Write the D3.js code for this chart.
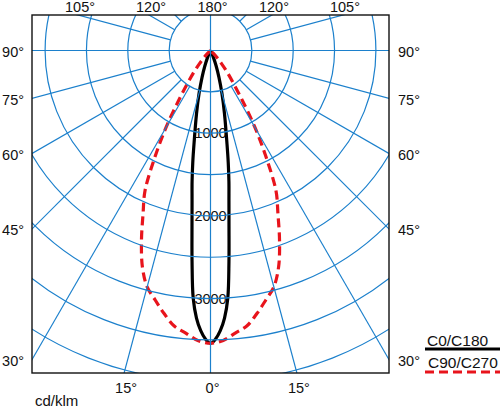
<!DOCTYPE html>
<html>
<head>
<meta charset="utf-8">
<script src="https://cdn.jsdelivr.net/npm/d3@7/dist/d3.min.js"></script>
<style>
  html, body { margin: 0; padding: 0; background: #fff; }
  svg { display: block; font-family: "Liberation Sans", Arial, sans-serif; }
</style>
</head>
<body>
<svg id="chart" width="500" height="409"></svg>
<script>
// ---- data (cd/klm) ----
const gammaC0 = [0, 1, 2, 3, 4, 5, 6, 7, 8, 9, 10, 12.5, 15, 17.5, 20, 22.5, 25, 27.5];
const valuesC0 = [3540, 3490, 3390, 3240, 3000, 2560, 2140, 1830, 1600, 1370, 1150, 780, 530, 340, 200, 100, 35, 0];
const gammaC90 = [0, 2.5, 5, 7.5, 10, 12.5, 15, 17.5, 20, 22.5, 25, 27.5, 30, 32.5, 35, 37.5, 40, 42.5, 45, 47.5];
const valuesC90 = [3540, 3510, 3430, 3360, 3230, 3090, 2960, 2740, 2440, 2130, 1875, 1460, 1080, 720, 480, 330, 210, 120, 50, 0];
const ringValues = [500, 1000, 1500, 2000, 2500, 3000, 3500, 4000, 4500];
const ringLabels = [1000, 2000, 3000];
const spokeAngles = [15, 30, 45, 60, 75, 105, 120, 135, 150, 165];
const angleTicks = [0, 15, 30, 45, 60, 75, 90, 105, 120, 180];
const seriesNames = ["C0/C180", "C90/C270"];
const unitLabel = "cd/klm";

// ---- layout ----
const svg = d3.select("#chart");
const frame = { x0: 32, y0: 15, x1: 389, y1: 373 };
const cx = 210.5, cy = 50.5;
const r = d3.scaleLinear().domain([0, 1000]).range([0, 82.7]);
const rad = d => d * Math.PI / 180;
const gridColor = "#1c80cc";

svg.append("defs").append("clipPath").attr("id", "clip")
  .append("rect").attr("x", frame.x0).attr("y", frame.y0)
  .attr("width", frame.x1 - frame.x0).attr("height", frame.y1 - frame.y0);

const g = svg.append("g").attr("transform", `translate(${cx},${cy})`);
const grid = svg.append("g").attr("clip-path", "url(#clip)")
  .append("g").attr("transform", `translate(${cx},${cy})`);

// point for angle gamma (deg from downward), side +1 right / -1 left
const pt = (gam, v, side) => [side * r(v) * Math.sin(rad(gam)), r(v) * Math.cos(rad(gam))];

// circles
grid.selectAll("circle.ring").data(ringValues).join("circle")
  .attr("class", "ring").attr("r", d => r(d))
  .attr("fill", "none").attr("stroke", gridColor).attr("stroke-width", 1.2);

// spokes
const spokes = [];
spokeAngles.forEach(a => { spokes.push([a, 1]); spokes.push([a, -1]); });
grid.selectAll("line.spoke").data(spokes).join("line")
  .attr("class", "spoke")
  .attr("x1", d => pt(d[0], 500, d[1])[0]).attr("y1", d => pt(d[0], 500, d[1])[1])
  .attr("x2", d => pt(d[0], 8000, d[1])[0]).attr("y2", d => pt(d[0], 8000, d[1])[1])
  .attr("stroke", gridColor).attr("stroke-width", 1.2);
// full axes lines
grid.append("line").attr("x1", 0).attr("x2", 0).attr("y1", -500).attr("y2", 500)
  .attr("stroke", gridColor).attr("stroke-width", 1.2);
grid.append("line").attr("x1", -500).attr("x2", 500).attr("y1", 0).attr("y2", 0)
  .attr("stroke", gridColor).attr("stroke-width", 1.2);

// ring labels with white background
const rl = g.selectAll("g.rl").data(ringLabels).join("g")
  .attr("class", "rl").attr("transform", d => `translate(0,${r(d)})`);
rl.append("rect").attr("x", -15).attr("y", -5.5).attr("width", 30).attr("height", 11).attr("fill", "#fff");
rl.append("text").attr("text-anchor", "middle").attr("dy", "0.36em")
  .attr("font-size", 14.5).attr("fill", "#111").text(d => d);

// curves
function curvePoints(gams, vals) {
  const left = gams.map((gm, i) => [Math.PI + rad(gm), r(vals[i])]).reverse();
  const right = gams.slice(1).map((gm, i) => [Math.PI - rad(gm), r(vals[i + 1])]);
  return left.concat(right);
}
const radial = d3.lineRadial().angle(d => d[0]).radius(d => d[1]).curve(d3.curveCatmullRom.alpha(0.5));
g.append("path").attr("d", radial(curvePoints(gammaC0, valuesC0)))
  .attr("fill", "none").attr("stroke", "#000").attr("stroke-width", 3.2).attr("stroke-linejoin", "round");
g.append("path").attr("d", radial(curvePoints(gammaC90, valuesC90)))
  .attr("fill", "none").attr("stroke", "#e8141c").attr("stroke-width", 3.2)
  .attr("stroke-dasharray", "9,5");

// frame
svg.append("rect").attr("x", frame.x0).attr("y", frame.y0)
  .attr("width", frame.x1 - frame.x0).attr("height", frame.y1 - frame.y0)
  .attr("fill", "none").attr("stroke", "#111").attr("stroke-width", 1.4);

// angle labels where spokes meet the frame
function hit(gam, side) {
  const dx = side * Math.sin(rad(gam)), dy = Math.cos(rad(gam));
  let best = null;
  const cand = [];
  if (dx > 1e-9) cand.push(["right", (frame.x1 - cx) / dx]);
  if (dx < -1e-9) cand.push(["left", (frame.x0 - cx) / dx]);
  if (dy > 1e-9) cand.push(["bottom", (frame.y1 - cy) / dy]);
  if (dy < -1e-9) cand.push(["top", (frame.y0 - cy) / dy]);
  cand.forEach(c => { if (!best || c[1] < best[1]) best = c; });
  return { edge: best[0], x: cx + dx * best[1], y: cy + dy * best[1] };
}
const labels = [];
angleTicks.forEach(a => {
  if (a === 0 || a === 180) labels.push([a, 1]);
  else { labels.push([a, 1]); labels.push([a, -1]); }
});
svg.selectAll("text.ang").data(labels).join("text")
  .attr("class", "ang").attr("font-size", 14.5).attr("fill", "#111")
  .each(function (d) {
    const h = hit(d[0], d[1]);
    const t = d3.select(this).text(d[0] + "°");
    if (h.edge === "left") t.attr("x", frame.x0 - 8).attr("y", h.y + 1).attr("text-anchor", "end").attr("dy", "0.36em");
    else if (h.edge === "right") t.attr("x", frame.x1 + 9).attr("y", h.y + 1).attr("text-anchor", "start").attr("dy", "0.36em");
    else if (h.edge === "top") t.attr("x", h.x + 2).attr("y", 12).attr("text-anchor", "middle");
    else t.attr("x", h.x + 2).attr("y", 392.5).attr("text-anchor", "middle");
  });

// unit
svg.append("text").attr("x", 35).attr("y", 406).attr("font-size", 15).attr("fill", "#111").text(unitLabel);

// legend
const legend = svg.append("g");
legend.append("text").attr("x", 427).attr("y", 345.5).attr("font-size", 15.5).attr("fill", "#111").text(seriesNames[0]);
legend.append("line").attr("x1", 425).attr("x2", 500).attr("y1", 349).attr("y2", 349)
  .attr("stroke", "#000").attr("stroke-width", 3.2);
legend.append("text").attr("x", 428).attr("y", 368).attr("font-size", 15.5).attr("fill", "#111").text(seriesNames[1]);
legend.append("line").attr("x1", 425).attr("x2", 500).attr("y1", 372).attr("y2", 372)
  .attr("stroke", "#e8141c").attr("stroke-width", 3.2).attr("stroke-dasharray", "9,5");
</script>
</body>
</html>
